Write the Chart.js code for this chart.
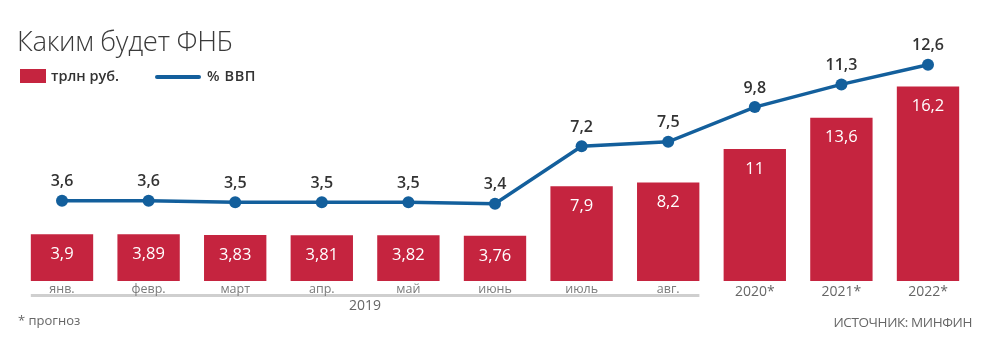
<!DOCTYPE html>
<html>
<head>
<meta charset="utf-8">
<script src="https://cdn.jsdelivr.net/npm/chart.js@4/dist/chart.umd.min.js"></script>
<style>
  html, body { margin: 0; padding: 0; background: #fff; }
  #wrap { position: relative; width: 984px; height: 347px; overflow: hidden; font-family: "Open Sans", "Noto Sans", sans-serif; }
  canvas { position: absolute; left: 0; top: 0; }
  .title { position: absolute; left: 17px; top: 22px; font-size: 27.5px; font-weight: 300; color: #3a3a3a; letter-spacing: -0.3px; }
  .leg { position: absolute; top: 66px; font-size: 14.5px; font-weight: 600; color: #333; }
  .box { position: absolute; left: 20px; top: 69px; width: 26px; height: 14px; background: #c5243f; }
  .ln { position: absolute; left: 155px; top: 75px; width: 46px; height: 4px; border-radius: 2px; background: #135f9c; }
  .foot { position: absolute; font-size: 13px; color: #666; }
</style>
</head>
<body>
<div id="wrap">
  <canvas id="c" width="984" height="347"></canvas>
  <div class="title">Каким будет ФНБ</div>
  <div class="box"></div>
  <div class="leg" style="left:51px">трлн руб.</div>
  <div class="ln"></div>
  <div class="leg" style="left:207px; letter-spacing:0.6px;">% ВВП</div>
  <div class="foot" style="left:18px; top:311px;">* прогноз</div>
  <div class="foot" style="right:12px; top:313px; font-size:13.5px; letter-spacing:-0.4px;">ИСТОЧНИК: МИНФИН</div>
</div>
<script>
const categories = ['янв.', 'февр.', 'март', 'апр.', 'май', 'июнь', 'июль', 'авг.', '2020*', '2021*', '2022*'];
const fundTrln = [3.9, 3.89, 3.83, 3.81, 3.82, 3.76, 7.9, 8.2, 11, 13.6, 16.2];
const fundGdpPct = [3.6, 3.6, 3.5, 3.5, 3.5, 3.4, 7.2, 7.5, 9.8, 11.3, 12.6];
const monthCount = 8;
const groupLabel = '2019';

const RED = '#c5243f';
const BLUE = '#135f9c';
const fmt = v => String(v).replace('.', ',');

const labelsPlugin = {
  id: 'customLabels',
  afterDatasetsDraw(chart) {
    const ctx = chart.ctx;
    const x = chart.scales.x;
    const barMeta = chart.getDatasetMeta(1);
    const lineMeta = chart.getDatasetMeta(0);
    ctx.save();
    ctx.textAlign = 'center';
    ctx.textBaseline = 'middle';
    // bar values (white, inside top)
    ctx.fillStyle = '#ffffff';
    ctx.font = '500 16.5px "Open Sans", "Noto Sans", sans-serif';
    barMeta.data.forEach((el, i) => {
      ctx.fillText(fmt(fundTrln[i]), el.x, el.y + 20);
    });
    // line values (dark, above points)
    ctx.fillStyle = '#333333';
    ctx.font = '600 16px "Open Sans", "Noto Sans", sans-serif';
    lineMeta.data.forEach((el, i) => {
      ctx.fillText(fmt(fundGdpPct[i]), el.x, el.y - 19);
    });
    // gray band under months
    const first = barMeta.data[0];
    const last = barMeta.data[monthCount - 1];
    ctx.fillStyle = '#cfcfcf';
    ctx.fillRect(first.x - first.width / 2, 294, (last.x + last.width / 2) - (first.x - first.width / 2), 3);
    // category labels
    categories.forEach((c, i) => {
      const px = x.getPixelForValue(i);
      if (i < monthCount) {
        ctx.fillStyle = '#7a7a7a';
        ctx.font = '12.5px "Open Sans", "Noto Sans", sans-serif';
        ctx.fillText(c, px, 289);
      } else {
        ctx.fillStyle = '#666666';
        ctx.font = '14px "Open Sans", "Noto Sans", sans-serif';
        ctx.fillText(c, px, 292);
      }
    });
    // group label
    const gx = (x.getPixelForValue(0) + x.getPixelForValue(monthCount - 1)) / 2;
    ctx.fillStyle = '#666666';
    ctx.font = '14px "Open Sans", "Noto Sans", sans-serif';
    ctx.fillText(groupLabel, gx, 306);
    ctx.restore();
  }
};

new Chart(document.getElementById('c'), {
  data: {
    labels: categories,
    datasets: [
      {
        type: 'line',
        label: '% ВВП',
        data: fundGdpPct,
        yAxisID: 'y2',
        borderColor: BLUE,
        backgroundColor: BLUE,
        borderWidth: 3.5,
        pointRadius: 6,
        pointBackgroundColor: BLUE,
        pointBorderWidth: 0,
        tension: 0,
        order: 0,
        clip: false
      },
      {
        type: 'bar',
        label: 'трлн руб.',
        data: fundTrln,
        yAxisID: 'y',
        backgroundColor: RED,
        borderWidth: 0,
        categoryPercentage: 1,
        barPercentage: 0.72,
        order: 1
      }
    ]
  },
  options: {
    responsive: false,
    animation: false,
    layout: { padding: { left: 18.7, right: 12.7, top: 40, bottom: 66 } },
    plugins: { legend: { display: false }, tooltip: { enabled: false }, title: { display: false } },
    scales: {
      x: { display: false, offset: true },
      y: { display: false, min: 0, max: 20.08 },
      y2: { display: false, min: -1.72, max: 14.24 }
    }
  },
  plugins: [labelsPlugin]
});
</script>
</body>
</html>
